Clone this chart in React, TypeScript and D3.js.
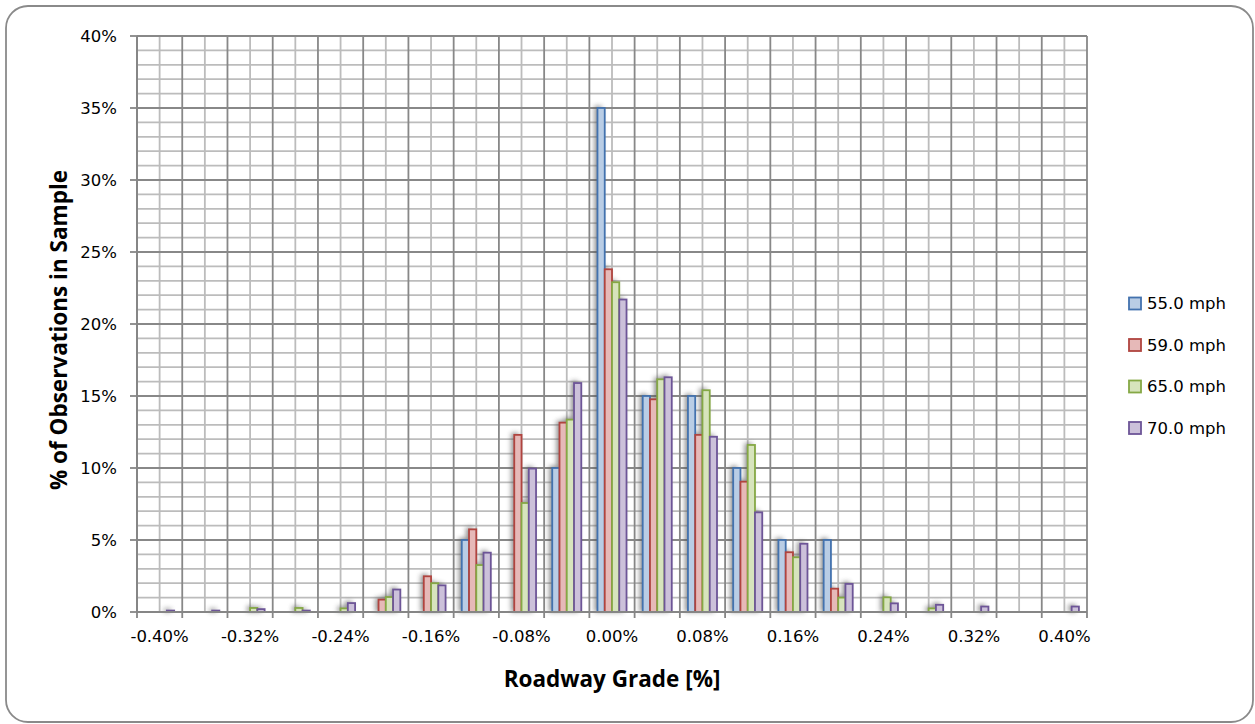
import React from "react";
import * as d3 from "d3";

const categories = ["-0.40%","-0.36%","-0.32%","-0.28%","-0.24%","-0.20%","-0.16%","-0.12%","-0.08%","-0.04%","0.00%","0.04%","0.08%","0.12%","0.16%","0.20%","0.24%","0.28%","0.32%","0.36%","0.40%"];
const tickLabels = ["-0.40%","-0.32%","-0.24%","-0.16%","-0.08%","0.00%","0.08%","0.16%","0.24%","0.32%","0.40%"];
const seriesNames = ["55.0 mph","59.0 mph","65.0 mph","70.0 mph"];
const s55 = [0,0,0,0,0,0,0,5.0,0,10.0,35.0,15.0,15.0,10.0,5.0,5.0,0,0,0,0,0];
const s59 = [0,0,0,0,0,0.86,2.48,5.74,12.3,13.15,23.8,14.77,12.3,9.05,4.15,1.62,0,0,0,0,0];
const s65 = [0,0,0.28,0.28,0.25,1.04,2.0,3.26,7.57,13.36,22.9,16.16,15.4,11.6,3.8,1.0,1.02,0.25,0,0,0];
const s70 = [0.1,0.1,0.2,0.1,0.62,1.56,1.85,4.12,9.96,15.9,21.7,16.3,12.17,6.92,4.74,1.95,0.6,0.5,0.38,0,0.38];
const yTicks = [0,5,10,15,20,25,30,35,40];

const fills = ["#b9cde5","#e6b9b8","#d7e4bd","#ccc1da"];
const strokes = ["#4372ae","#b0443f","#85a845","#6d5597"];

export default function App() {
  const W = 1255, H = 724;
  const L = 137, R = 1087, T = 36, B = 612;
  const allSeries = [s55, s59, s65, s70];

  const x0 = d3.scaleBand<string>().domain(categories).range([L, R]).paddingInner(0).paddingOuter(0);
  const x1 = d3.scaleBand<string>().domain(seriesNames).range([0, x0.bandwidth()]).paddingInner(0).paddingOuter(1.115);
  const y = d3.scaleLinear().domain([0, 40]).range([B, T]);
  const minorY = d3.range(0, 41, 1);
  const bw = x0.bandwidth();

  const bars: { x: number; y: number; w: number; h: number; i: number; k: string }[] = [];
  allSeries.forEach((s, i) => {
    s.forEach((v, c) => {
      if (v <= 0) return;
      const xx = (x0(categories[c]) as number) + (x1(seriesNames[i]) as number);
      bars.push({ x: xx, y: y(v), w: x1.bandwidth(), h: y(0) - y(v), i, k: `${i}-${c}` });
    });
  });

  const tickFont = "'DejaVu Sans', sans-serif";
  const titleFont = "'Open Sans', sans-serif";

  return (
    <svg width={W} height={H} style={{ position: "absolute", left: 0, top: 0, background: "#fff" }}>
      <defs>
        <filter id="sh" x="-100%" y="-20%" width="300%" height="140%">
          <feGaussianBlur stdDeviation="2.5" />
        </filter>
      </defs>
      <rect x={6} y={6} width={1247} height={716} rx={22} ry={22} fill="#fff" stroke="#8a8a8a" strokeWidth={1.8} />
      {minorY.filter(v => v % 5 !== 0).map(v => (
        <line key={"hy" + v} x1={L} x2={R} y1={y(v)} y2={y(v)} stroke="#bcbcbc" strokeWidth={1.8} />
      ))}
      {categories.map(c => (
        <line key={"vx" + c} x1={(x0(c) as number) + bw / 2} x2={(x0(c) as number) + bw / 2} y1={T} y2={B} stroke="#bcbcbc" strokeWidth={1.8} />
      ))}
      {yTicks.map(v => (
        <line key={"My" + v} x1={L} x2={R} y1={y(v)} y2={y(v)} stroke="#888" strokeWidth={1.8} />
      ))}
      {categories.map(c => (
        <line key={"Mx" + c} x1={(x0(c) as number) + bw} x2={(x0(c) as number) + bw} y1={T} y2={B} stroke="#888" strokeWidth={1.8} />
      ))}
      <g filter="url(#sh)" opacity={0.65}>
        {bars.map(b => (
          <rect key={"s" + b.k} x={b.x - 3} y={b.y - 2} width={b.w} height={b.h + 2} fill="#555" />
        ))}
      </g>
      {bars.map(b => (
        <rect key={"b" + b.k} x={b.x} y={b.y} width={b.w} height={b.h} fill={fills[b.i]} stroke={strokes[b.i]} strokeWidth={1.8} />
      ))}
      <line x1={L} x2={L} y1={T} y2={B} stroke="#868686" strokeWidth={2} />
      <line x1={L} x2={R} y1={B} y2={B} stroke="#868686" strokeWidth={2} />
      {yTicks.map(v => (
        <line key={"yt" + v} x1={L - 7} x2={L} y1={y(v)} y2={y(v)} stroke="#868686" strokeWidth={1.8} />
      ))}
      {[...categories.map(c => x0(c) as number), R].map((xx, i) => (
        <line key={"xt" + i} x1={xx} x2={xx} y1={B} y2={B + 6} stroke="#868686" strokeWidth={1.8} />
      ))}
      {yTicks.map(v => (
        <text key={"yl" + v} x={L - 20} y={y(v)} textAnchor="end" dominantBaseline="central" fontFamily={tickFont} fontSize={16.5} fill="#000">{v}%</text>
      ))}
      {tickLabels.map(t => (
        <text key={"xl" + t} x={(x0(t) as number) + bw / 2} y={636} textAnchor="middle" dominantBaseline="central" fontFamily={tickFont} fontSize={16.5} fill="#000">{t}</text>
      ))}
      <text x={612} y={678} textAnchor="middle" dominantBaseline="central" fontFamily={titleFont} fontWeight="bold" fontSize={22.5} fill="#000">Roadway Grade [%]</text>
      <text transform={`translate(58,${(T + B) / 2 + 6}) rotate(-90)`} textAnchor="middle" dominantBaseline="central" fontFamily={titleFont} fontWeight="bold" fontSize={22.5} fill="#000">% of Observations in Sample</text>
      {seriesNames.map((n, i) => (
        <g key={"lg" + n} transform={`translate(1129,${303.5 + i * 41.5})`}>
          <rect x={0} y={-6} width={12} height={12} fill={fills[i]} stroke={strokes[i]} strokeWidth={1.8} />
          <text x={18} y={0} dominantBaseline="central" fontFamily={tickFont} fontSize={16.5} fill="#000">{n}</text>
        </g>
      ))}
    </svg>
  );
}
